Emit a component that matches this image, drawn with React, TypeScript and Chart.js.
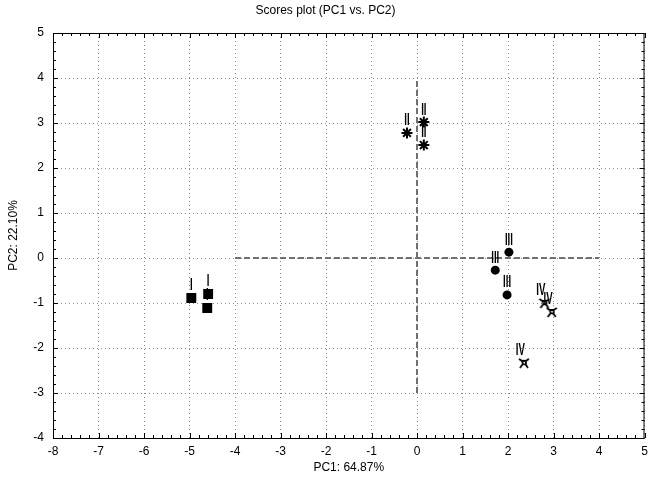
import React, { useEffect, useRef } from "react";
import { Chart, registerables } from "chart.js";

Chart.register(...registerables);

const titleText = "Scores plot (PC1 vs. PC2)";
const xTitle = "PC1: 64.87%";
const yTitle = "PC2: 22.10%";

const xMin = -8, xMax = 5, yMin = -4, yMax = 5;

const groupIX = [-4.96, -4.59, -4.61];
const groupIY = [-0.89, -0.8, -1.11];
const groupIIX = [-0.22, 0.15, 0.15];
const groupIIY = [2.78, 3.02, 2.51];
const groupIIIX = [2.02, 1.72, 1.98];
const groupIIIY = [0.13, -0.27, -0.82];
const groupIVX = [2.8, 2.96, 2.35];
const groupIVY = [-1.0, -1.2, -2.33];
const groupLabels = ["I", "II", "III", "IV"];

const hLineX = [-4, 4];
const hLineY = [0, 0];
const vLineX = [0, 0];
const vLineY = [-3, 4];

const pts = (xs: number[], ys: number[]) => xs.map((x, i) => ({ x, y: ys[i] }));

function makeIVMarker() {
  const c = document.createElement("canvas");
  c.width = 12;
  c.height = 12;
  const g = c.getContext("2d")!;
  g.strokeStyle = "#000";
  g.lineWidth = 1.8;
  g.beginPath();
  g.moveTo(1, 2); g.lineTo(4, 4); g.lineTo(8, 4); g.lineTo(11, 2);
  g.moveTo(4, 4); g.lineTo(5, 7); g.lineTo(2, 11);
  g.moveTo(5, 7); g.lineTo(8, 8); g.lineTo(10, 11);
  g.moveTo(8, 4); g.lineTo(8, 8);
  g.stroke();
  return c;
}

const labelPlugin = {
  id: "groupLabels",
  afterDatasetsDraw(chart: any) {
    const ctx = chart.ctx;
    for (let d = 0; d < 4; d++) {
      const meta = chart.getDatasetMeta(d);
      meta.data.forEach((el: any) => {
        ctx.save();
        ctx.translate(el.x, el.y - 4);
        ctx.scale(0.6, 1);
        ctx.fillStyle = "#000";
        ctx.font = "bold 16px 'Liberation Sans', Arial";
        ctx.textAlign = "center";
        ctx.textBaseline = "bottom";
        ctx.fillText(groupLabels[d], d === 3 ? -6 : 0, 0);
        ctx.restore();
      });
    }
  },
};

const tickPlugin = {
  id: "inwardTicks",
  afterDraw(chart: any) {
    const ctx = chart.ctx;
    const { left, right, top, bottom } = chart.chartArea;
    const xs = chart.scales.x;
    const ys = chart.scales.y;
    ctx.save();
    ctx.strokeStyle = "#000";
    ctx.lineWidth = 1;
    ctx.beginPath();
    for (let i = 0; i <= (xMax - xMin) * 5; i++) {
      const v = xMin + i * 0.2;
      const len = i % 5 === 0 ? 5 : 3;
      const px = Math.round(xs.getPixelForValue(v)) + 0.5;
      ctx.moveTo(px, bottom); ctx.lineTo(px, bottom - len);
      ctx.moveTo(px, top); ctx.lineTo(px, top + len);
    }
    for (let i = 0; i <= (yMax - yMin) * 5; i++) {
      const v = yMin + i * 0.2;
      const len = i % 5 === 0 ? 5 : 3;
      const py = Math.round(ys.getPixelForValue(v)) + 0.5;
      ctx.moveTo(left, py); ctx.lineTo(left + len, py);
      ctx.moveTo(right, py); ctx.lineTo(right - len, py);
    }
    ctx.stroke();
    ctx.strokeRect(left + 0.5, top + 0.5, right - left - 1, bottom - top);
    ctx.restore();
  },
};

export default function App() {
  const ref = useRef<HTMLCanvasElement>(null);
  useEffect(() => {
    document.body.style.margin = "0";
    const ivMarker = makeIVMarker();
    const chart = new Chart(ref.current!, {
      type: "scatter",
      data: {
        datasets: [
          { data: pts(groupIX, groupIY), pointStyle: "rect", pointRadius: 7, backgroundColor: "#000", borderColor: "#000", borderWidth: 0 },
          { data: pts(groupIIX, groupIIY), pointStyle: "star", pointRadius: 5.5, backgroundColor: "#000", borderColor: "#000", borderWidth: 2 },
          { data: pts(groupIIIX, groupIIIY), pointStyle: "circle", pointRadius: 4.5, backgroundColor: "#000", borderColor: "#000", borderWidth: 0 },
          { data: pts(groupIVX, groupIVY), pointStyle: ivMarker as any, pointRadius: 6, backgroundColor: "#000", borderColor: "#000" },
          { type: "line", data: pts(hLineX, hLineY), showLine: true, pointRadius: 0, borderColor: "#707070", borderWidth: 2, borderDash: [6, 3] } as any,
          { type: "line", data: pts(vLineX, vLineY), showLine: true, pointRadius: 0, borderColor: "#707070", borderWidth: 2, borderDash: [6, 3] } as any,
        ],
      },
      options: {
        responsive: false,
        animation: false,
        events: [],
        layout: { padding: { left: 0, right: 1, top: 0, bottom: 0 } },
        plugins: {
          legend: { display: false },
          tooltip: { enabled: false },
          title: {
            display: true,
            text: titleText,
            color: "#000",
            font: { family: "'Liberation Sans', Arial", size: 12, weight: "normal" },
            padding: { top: 3, bottom: 15.6 },
          },
        },
        scales: {
          x: {
            type: "linear",
            min: xMin,
            max: xMax,
            ticks: { stepSize: 1, color: "#000", font: { family: "'Liberation Sans', Arial", size: 12 }, padding: 6, maxRotation: 0 },
            grid: { color: "#8a8a8a", drawTicks: false, lineWidth: 1 },
            border: { display: false, dash: [1, 3] },
            title: { display: true, text: xTitle, color: "#000", font: { family: "'Liberation Sans', Arial", size: 12 }, padding: { top: 0, bottom: 8 } },
            afterFit: (s: any) => { s.height = 45; s.paddingLeft = 0; s.paddingRight = 0; },
          },
          y: {
            type: "linear",
            min: yMin,
            max: yMax,
            ticks: { stepSize: 1, color: "#000", font: { family: "'Liberation Sans', Arial", size: 12 }, padding: 9 },
            grid: { color: "#8a8a8a", drawTicks: false, lineWidth: 1 },
            border: { display: false, dash: [1, 3] },
            title: { display: true, text: yTitle, color: "#000", font: { family: "'Liberation Sans', Arial", size: 12 }, padding: { top: 6, bottom: 0 } },
            afterFit: (s: any) => { s.width = 53; s.paddingTop = 0; s.paddingBottom = 0; },
          },
        },
      },
      plugins: [labelPlugin, tickPlugin],
    } as any);
    return () => chart.destroy();
  }, []);
  return (
    <div style={{ width: 652, height: 483 }}>
      <canvas ref={ref} width={652} height={483} />
    </div>
  );
}
